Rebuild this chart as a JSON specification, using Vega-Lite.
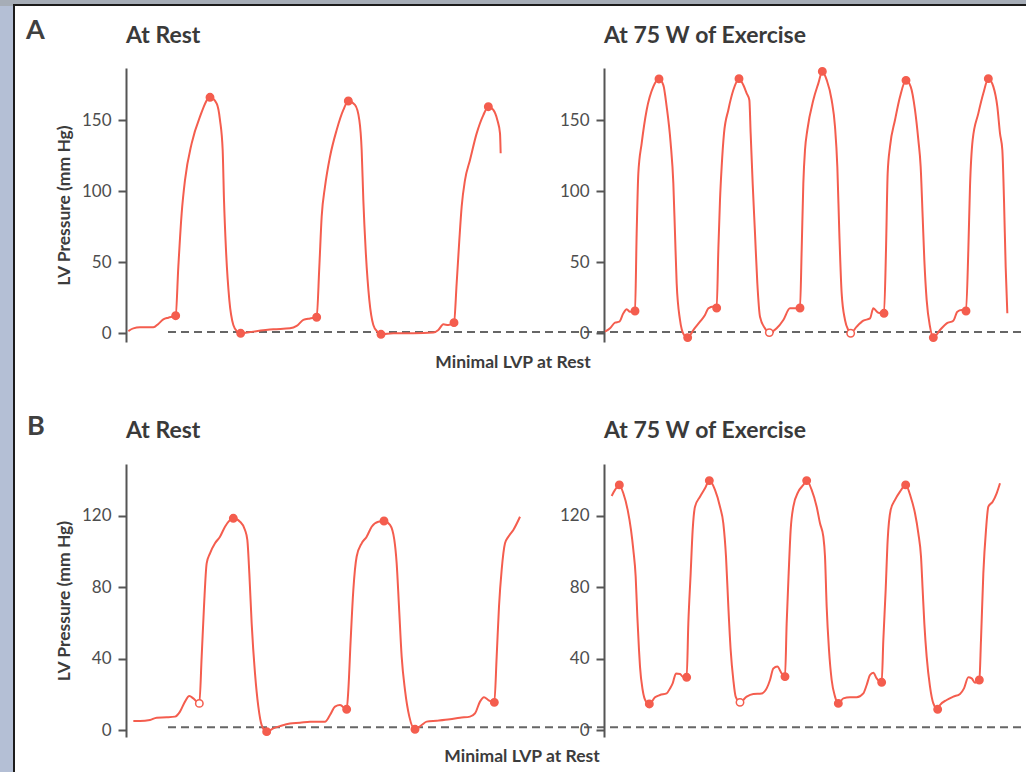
{
  "$schema": "https://vega.github.io/schema/vega-lite/v6.json",
  "padding": 0,
  "background": "white",
  "config": {"view": {"stroke": null}, "font": "Lato", "concat": {"spacing": 0}},
  "datasets": {
    "curve": [
      {"g":"A-rest","t":14,"p":1.6},{"g":"A-rest","t":44,"p":3.5},{"g":"A-rest","t":84,"p":4.2},{"g":"A-rest","t":164,"p":4.2},{"g":"A-rest","t":194,"p":6.6},{"g":"A-rest","t":224,"p":9.8},{"g":"A-rest","t":254,"p":11.0},{"g":"A-rest","t":298,"p":12.4},{"g":"A-rest","t":314,"p":46.9},{"g":"A-rest","t":334,"p":84.4},{"g":"A-rest","t":354,"p":107.8},{"g":"A-rest","t":394,"p":133.6},{"g":"A-rest","t":444,"p":152.4},{"g":"A-rest","t":504,"p":166.0},{"g":"A-rest","t":544,"p":161.7},{"g":"A-rest","t":564,"p":150.0},{"g":"A-rest","t":580,"p":128.9},{"g":"A-rest","t":588,"p":93.8},{"g":"A-rest","t":600,"p":58.6},{"g":"A-rest","t":620,"p":23.4},{"g":"A-rest","t":644,"p":5.9},{"g":"A-rest","t":668,"p":1.2},{"g":"A-rest","t":688,"p":0},{"g":"A-rest","t":764,"p":1.2},{"g":"A-rest","t":884,"p":2.8},{"g":"A-rest","t":984,"p":3.5},{"g":"A-rest","t":1024,"p":5.2},{"g":"A-rest","t":1064,"p":9.4},{"g":"A-rest","t":1104,"p":10.5},{"g":"A-rest","t":1144,"p":11.3},{"g":"A-rest","t":1160,"p":46.9},{"g":"A-rest","t":1174,"p":82.0},{"g":"A-rest","t":1194,"p":103.1},{"g":"A-rest","t":1224,"p":124.2},{"g":"A-rest","t":1264,"p":143.0},{"g":"A-rest","t":1304,"p":157.1},{"g":"A-rest","t":1334,"p":163.4},{"g":"A-rest","t":1374,"p":160.6},{"g":"A-rest","t":1400,"p":150.0},{"g":"A-rest","t":1414,"p":128.9},{"g":"A-rest","t":1424,"p":93.8},{"g":"A-rest","t":1438,"p":58.6},{"g":"A-rest","t":1460,"p":23.4},{"g":"A-rest","t":1484,"p":5.9},{"g":"A-rest","t":1508,"p":1.2},{"g":"A-rest","t":1530,"p":-0.7},{"g":"A-rest","t":1604,"p":0},{"g":"A-rest","t":1724,"p":0},{"g":"A-rest","t":1844,"p":0.5},{"g":"A-rest","t":1874,"p":2.3},{"g":"A-rest","t":1904,"p":6.3},{"g":"A-rest","t":1934,"p":5.9},{"g":"A-rest","t":1968,"p":7.5},{"g":"A-rest","t":1984,"p":35.2},{"g":"A-rest","t":2000,"p":65.6},{"g":"A-rest","t":2014,"p":89.1},{"g":"A-rest","t":2034,"p":107.8},{"g":"A-rest","t":2064,"p":121.9},{"g":"A-rest","t":2104,"p":140.6},{"g":"A-rest","t":2144,"p":153.5},{"g":"A-rest","t":2174,"p":159.4},{"g":"A-rest","t":2204,"p":157.1},{"g":"A-rest","t":2228,"p":150.0},{"g":"A-rest","t":2244,"p":140.6},{"g":"A-rest","t":2248,"p":126.6},

      {"g":"A-ex","t":6,"p":1.2},{"g":"A-ex","t":36,"p":3.5},{"g":"A-ex","t":66,"p":7.5},{"g":"A-ex","t":92,"p":8.2},{"g":"A-ex","t":116,"p":14.1},{"g":"A-ex","t":136,"p":16.9},{"g":"A-ex","t":156,"p":15.2},{"g":"A-ex","t":186,"p":15.7},{"g":"A-ex","t":196,"p":70.3},{"g":"A-ex","t":206,"p":112.5},{"g":"A-ex","t":226,"p":133.6},{"g":"A-ex","t":256,"p":157.1},{"g":"A-ex","t":296,"p":173.5},{"g":"A-ex","t":330,"p":178.9},{"g":"A-ex","t":356,"p":174.6},{"g":"A-ex","t":376,"p":159.4},{"g":"A-ex","t":400,"p":133.6},{"g":"A-ex","t":416,"p":105.5},{"g":"A-ex","t":426,"p":70.3},{"g":"A-ex","t":436,"p":35.2},{"g":"A-ex","t":456,"p":9.4},{"g":"A-ex","t":480,"p":-1.2},{"g":"A-ex","t":502,"p":-3.0},{"g":"A-ex","t":536,"p":2.3},{"g":"A-ex","t":576,"p":8.2},{"g":"A-ex","t":606,"p":12.9},{"g":"A-ex","t":626,"p":17.6},{"g":"A-ex","t":656,"p":18.8},{"g":"A-ex","t":676,"p":17.8},{"g":"A-ex","t":686,"p":58.6},{"g":"A-ex","t":696,"p":93.8},{"g":"A-ex","t":706,"p":117.2},{"g":"A-ex","t":720,"p":140.6},{"g":"A-ex","t":746,"p":157.1},{"g":"A-ex","t":776,"p":171.1},{"g":"A-ex","t":810,"p":179.1},{"g":"A-ex","t":836,"p":174.6},{"g":"A-ex","t":856,"p":168.8},{"g":"A-ex","t":872,"p":164.1},{"g":"A-ex","t":880,"p":140.6},{"g":"A-ex","t":892,"p":105.5},{"g":"A-ex","t":906,"p":70.3},{"g":"A-ex","t":920,"p":35.2},{"g":"A-ex","t":936,"p":11.7},{"g":"A-ex","t":966,"p":3.5},{"g":"A-ex","t":992,"p":0.5},{"g":"A-ex","t":1036,"p":3.5},{"g":"A-ex","t":1076,"p":9.4},{"g":"A-ex","t":1116,"p":17.6},{"g":"A-ex","t":1146,"p":17.6},{"g":"A-ex","t":1176,"p":17.8},{"g":"A-ex","t":1186,"p":58.6},{"g":"A-ex","t":1196,"p":105.5},{"g":"A-ex","t":1206,"p":128.9},{"g":"A-ex","t":1220,"p":143.0},{"g":"A-ex","t":1256,"p":164.1},{"g":"A-ex","t":1286,"p":175.8},{"g":"A-ex","t":1310,"p":184.2},{"g":"A-ex","t":1336,"p":178.2},{"g":"A-ex","t":1366,"p":164.1},{"g":"A-ex","t":1386,"p":145.3},{"g":"A-ex","t":1400,"p":117.2},{"g":"A-ex","t":1412,"p":70.3},{"g":"A-ex","t":1426,"p":28.1},{"g":"A-ex","t":1446,"p":9.4},{"g":"A-ex","t":1466,"p":2.3},{"g":"A-ex","t":1480,"p":0},{"g":"A-ex","t":1516,"p":4.7},{"g":"A-ex","t":1556,"p":8.9},{"g":"A-ex","t":1596,"p":10.5},{"g":"A-ex","t":1616,"p":17.6},{"g":"A-ex","t":1646,"p":14.5},{"g":"A-ex","t":1680,"p":14.1},{"g":"A-ex","t":1692,"p":58.6},{"g":"A-ex","t":1702,"p":112.5},{"g":"A-ex","t":1716,"p":131.3},{"g":"A-ex","t":1746,"p":150.0},{"g":"A-ex","t":1776,"p":166.4},{"g":"A-ex","t":1812,"p":177.9},{"g":"A-ex","t":1840,"p":173.5},{"g":"A-ex","t":1866,"p":157.1},{"g":"A-ex","t":1886,"p":136.0},{"g":"A-ex","t":1900,"p":117.2},{"g":"A-ex","t":1912,"p":82.0},{"g":"A-ex","t":1922,"p":51.6},{"g":"A-ex","t":1936,"p":23.4},{"g":"A-ex","t":1956,"p":4.7},{"g":"A-ex","t":1976,"p":-3.0},{"g":"A-ex","t":2016,"p":2.3},{"g":"A-ex","t":2056,"p":7.0},{"g":"A-ex","t":2096,"p":8.9},{"g":"A-ex","t":2120,"p":15.2},{"g":"A-ex","t":2146,"p":16.4},{"g":"A-ex","t":2172,"p":15.7},{"g":"A-ex","t":2186,"p":58.6},{"g":"A-ex","t":2196,"p":103.1},{"g":"A-ex","t":2212,"p":136.0},{"g":"A-ex","t":2246,"p":154.7},{"g":"A-ex","t":2276,"p":168.8},{"g":"A-ex","t":2306,"p":179.1},{"g":"A-ex","t":2336,"p":173.5},{"g":"A-ex","t":2360,"p":159.4},{"g":"A-ex","t":2376,"p":140.6},{"g":"A-ex","t":2390,"p":128.9},{"g":"A-ex","t":2400,"p":93.8},{"g":"A-ex","t":2410,"p":46.9},{"g":"A-ex","t":2420,"p":14.1},

      {"g":"B-rest","t":44,"p":5.0},{"g":"B-rest","t":84,"p":5.0},{"g":"B-rest","t":144,"p":5.6},{"g":"B-rest","t":184,"p":6.9},{"g":"B-rest","t":244,"p":7.1},{"g":"B-rest","t":294,"p":7.5},{"g":"B-rest","t":324,"p":10.3},{"g":"B-rest","t":354,"p":15.9},{"g":"B-rest","t":380,"p":19.0},{"g":"B-rest","t":404,"p":17.7},{"g":"B-rest","t":440,"p":14.9},{"g":"B-rest","t":454,"p":41.1},{"g":"B-rest","t":468,"p":69.1},{"g":"B-rest","t":484,"p":93.3},{"g":"B-rest","t":504,"p":98.9},{"g":"B-rest","t":534,"p":104.5},{"g":"B-rest","t":564,"p":108.2},{"g":"B-rest","t":594,"p":113.8},{"g":"B-rest","t":644,"p":118.5},{"g":"B-rest","t":684,"p":116.6},{"g":"B-rest","t":714,"p":112.0},{"g":"B-rest","t":728,"p":106.4},{"g":"B-rest","t":740,"p":87.7},{"g":"B-rest","t":754,"p":59.7},{"g":"B-rest","t":774,"p":31.7},{"g":"B-rest","t":794,"p":13.1},{"g":"B-rest","t":814,"p":2.8},{"g":"B-rest","t":844,"p":-0.9},{"g":"B-rest","t":884,"p":0.9},{"g":"B-rest","t":924,"p":2.2},{"g":"B-rest","t":984,"p":3.7},{"g":"B-rest","t":1044,"p":4.1},{"g":"B-rest","t":1104,"p":4.7},{"g":"B-rest","t":1194,"p":4.7},{"g":"B-rest","t":1224,"p":8.4},{"g":"B-rest","t":1254,"p":13.1},{"g":"B-rest","t":1284,"p":14.0},{"g":"B-rest","t":1324,"p":11.6},{"g":"B-rest","t":1334,"p":22.4},{"g":"B-rest","t":1348,"p":50.4},{"g":"B-rest","t":1364,"p":78.4},{"g":"B-rest","t":1384,"p":97.1},{"g":"B-rest","t":1414,"p":104.5},{"g":"B-rest","t":1444,"p":108.2},{"g":"B-rest","t":1474,"p":113.8},{"g":"B-rest","t":1514,"p":116.6},{"g":"B-rest","t":1548,"p":117.0},{"g":"B-rest","t":1584,"p":114.8},{"g":"B-rest","t":1610,"p":106.4},{"g":"B-rest","t":1624,"p":93.3},{"g":"B-rest","t":1638,"p":69.1},{"g":"B-rest","t":1654,"p":41.1},{"g":"B-rest","t":1674,"p":22.4},{"g":"B-rest","t":1700,"p":7.5},{"g":"B-rest","t":1734,"p":0.4},{"g":"B-rest","t":1774,"p":2.8},{"g":"B-rest","t":1804,"p":4.7},{"g":"B-rest","t":1864,"p":5.2},{"g":"B-rest","t":1944,"p":6.0},{"g":"B-rest","t":2004,"p":6.9},{"g":"B-rest","t":2064,"p":7.5},{"g":"B-rest","t":2094,"p":9.3},{"g":"B-rest","t":2124,"p":15.9},{"g":"B-rest","t":2148,"p":18.3},{"g":"B-rest","t":2174,"p":16.8},{"g":"B-rest","t":2210,"p":15.5},{"g":"B-rest","t":2224,"p":41.1},{"g":"B-rest","t":2238,"p":69.1},{"g":"B-rest","t":2254,"p":89.6},{"g":"B-rest","t":2274,"p":104.5},{"g":"B-rest","t":2294,"p":108.2},{"g":"B-rest","t":2324,"p":112.0},{"g":"B-rest","t":2364,"p":119.4},

      {"g":"B-ex","t":46,"p":131.0},{"g":"B-ex","t":66,"p":134.4},{"g":"B-ex","t":92,"p":137.2},{"g":"B-ex","t":116,"p":132.5},{"g":"B-ex","t":142,"p":123.2},{"g":"B-ex","t":162,"p":112.0},{"g":"B-ex","t":176,"p":100.8},{"g":"B-ex","t":190,"p":85.9},{"g":"B-ex","t":200,"p":63.5},{"g":"B-ex","t":210,"p":44.8},{"g":"B-ex","t":216,"p":35.5},{"g":"B-ex","t":232,"p":22.4},{"g":"B-ex","t":252,"p":15.9},{"g":"B-ex","t":272,"p":14.6},{"g":"B-ex","t":306,"p":18.3},{"g":"B-ex","t":336,"p":19.6},{"g":"B-ex","t":376,"p":20.5},{"g":"B-ex","t":396,"p":23.3},{"g":"B-ex","t":412,"p":26.1},{"g":"B-ex","t":432,"p":31.7},{"g":"B-ex","t":456,"p":31.4},{"g":"B-ex","t":472,"p":29.9},{"g":"B-ex","t":496,"p":29.5},{"g":"B-ex","t":506,"p":59.7},{"g":"B-ex","t":520,"p":87.7},{"g":"B-ex","t":532,"p":112.0},{"g":"B-ex","t":546,"p":125.0},{"g":"B-ex","t":576,"p":130.6},{"g":"B-ex","t":606,"p":135.3},{"g":"B-ex","t":632,"p":139.6},{"g":"B-ex","t":666,"p":134.4},{"g":"B-ex","t":696,"p":125.0},{"g":"B-ex","t":716,"p":115.7},{"g":"B-ex","t":732,"p":97.1},{"g":"B-ex","t":746,"p":69.1},{"g":"B-ex","t":760,"p":44.8},{"g":"B-ex","t":776,"p":28.0},{"g":"B-ex","t":790,"p":18.7},{"g":"B-ex","t":816,"p":15.5},{"g":"B-ex","t":856,"p":18.7},{"g":"B-ex","t":896,"p":20.2},{"g":"B-ex","t":946,"p":20.5},{"g":"B-ex","t":976,"p":23.3},{"g":"B-ex","t":996,"p":28.0},{"g":"B-ex","t":1016,"p":34.5},{"g":"B-ex","t":1040,"p":35.5},{"g":"B-ex","t":1066,"p":31.7},{"g":"B-ex","t":1086,"p":29.9},{"g":"B-ex","t":1096,"p":59.7},{"g":"B-ex","t":1108,"p":87.7},{"g":"B-ex","t":1120,"p":112.0},{"g":"B-ex","t":1136,"p":125.0},{"g":"B-ex","t":1166,"p":133.4},{"g":"B-ex","t":1196,"p":137.2},{"g":"B-ex","t":1216,"p":139.6},{"g":"B-ex","t":1246,"p":134.4},{"g":"B-ex","t":1276,"p":125.0},{"g":"B-ex","t":1296,"p":115.7},{"g":"B-ex","t":1316,"p":108.2},{"g":"B-ex","t":1326,"p":97.1},{"g":"B-ex","t":1336,"p":69.1},{"g":"B-ex","t":1350,"p":44.8},{"g":"B-ex","t":1366,"p":28.0},{"g":"B-ex","t":1386,"p":18.7},{"g":"B-ex","t":1406,"p":14.9},{"g":"B-ex","t":1436,"p":17.7},{"g":"B-ex","t":1476,"p":18.3},{"g":"B-ex","t":1516,"p":18.3},{"g":"B-ex","t":1556,"p":20.5},{"g":"B-ex","t":1576,"p":25.2},{"g":"B-ex","t":1596,"p":30.8},{"g":"B-ex","t":1616,"p":32.1},{"g":"B-ex","t":1636,"p":28.9},{"g":"B-ex","t":1666,"p":26.7},{"g":"B-ex","t":1676,"p":50.4},{"g":"B-ex","t":1690,"p":78.4},{"g":"B-ex","t":1702,"p":106.4},{"g":"B-ex","t":1720,"p":123.2},{"g":"B-ex","t":1746,"p":128.8},{"g":"B-ex","t":1776,"p":133.4},{"g":"B-ex","t":1810,"p":137.2},{"g":"B-ex","t":1840,"p":130.6},{"g":"B-ex","t":1866,"p":121.3},{"g":"B-ex","t":1886,"p":110.1},{"g":"B-ex","t":1902,"p":97.1},{"g":"B-ex","t":1912,"p":78.4},{"g":"B-ex","t":1922,"p":59.7},{"g":"B-ex","t":1936,"p":41.1},{"g":"B-ex","t":1956,"p":24.3},{"g":"B-ex","t":1976,"p":14.9},{"g":"B-ex","t":2002,"p":11.6},{"g":"B-ex","t":2016,"p":14.0},{"g":"B-ex","t":2056,"p":16.8},{"g":"B-ex","t":2096,"p":18.7},{"g":"B-ex","t":2136,"p":20.2},{"g":"B-ex","t":2160,"p":23.3},{"g":"B-ex","t":2186,"p":29.5},{"g":"B-ex","t":2206,"p":28.9},{"g":"B-ex","t":2226,"p":26.5},{"g":"B-ex","t":2252,"p":28.0},{"g":"B-ex","t":2262,"p":50.4},{"g":"B-ex","t":2276,"p":87.7},{"g":"B-ex","t":2292,"p":112.0},{"g":"B-ex","t":2306,"p":125.0},{"g":"B-ex","t":2332,"p":127.8},{"g":"B-ex","t":2356,"p":132.5},{"g":"B-ex","t":2376,"p":138.1}
    ],
    "marks": [
      {"g":"A-rest","t":298,"p":12.4,"k":"filled"},{"g":"A-rest","t":504,"p":166.0,"k":"filled"},{"g":"A-rest","t":688,"p":0,"k":"filled"},{"g":"A-rest","t":1144,"p":11.3,"k":"filled"},{"g":"A-rest","t":1334,"p":163.4,"k":"filled"},{"g":"A-rest","t":1530,"p":-0.7,"k":"filled"},{"g":"A-rest","t":1968,"p":7.5,"k":"filled"},{"g":"A-rest","t":2174,"p":159.4,"k":"filled"},
      {"g":"A-ex","t":186,"p":15.7,"k":"filled"},{"g":"A-ex","t":330,"p":178.9,"k":"filled"},{"g":"A-ex","t":502,"p":-3.0,"k":"filled"},{"g":"A-ex","t":676,"p":17.8,"k":"filled"},{"g":"A-ex","t":810,"p":179.1,"k":"filled"},{"g":"A-ex","t":992,"p":0.5,"k":"open"},{"g":"A-ex","t":1176,"p":17.8,"k":"filled"},{"g":"A-ex","t":1310,"p":184.2,"k":"filled"},{"g":"A-ex","t":1480,"p":0,"k":"open"},{"g":"A-ex","t":1680,"p":14.1,"k":"filled"},{"g":"A-ex","t":1812,"p":177.9,"k":"filled"},{"g":"A-ex","t":1976,"p":-3.0,"k":"filled"},{"g":"A-ex","t":2172,"p":15.7,"k":"filled"},{"g":"A-ex","t":2306,"p":179.1,"k":"filled"},
      {"g":"B-rest","t":440,"p":14.9,"k":"open"},{"g":"B-rest","t":644,"p":118.5,"k":"filled"},{"g":"B-rest","t":844,"p":-0.9,"k":"filled"},{"g":"B-rest","t":1324,"p":11.6,"k":"filled"},{"g":"B-rest","t":1548,"p":117.0,"k":"filled"},{"g":"B-rest","t":1734,"p":0.4,"k":"filled"},{"g":"B-rest","t":2210,"p":15.5,"k":"filled"},
      {"g":"B-ex","t":92,"p":137.2,"k":"filled"},{"g":"B-ex","t":272,"p":14.6,"k":"filled"},{"g":"B-ex","t":496,"p":29.5,"k":"filled"},{"g":"B-ex","t":632,"p":139.6,"k":"filled"},{"g":"B-ex","t":816,"p":15.5,"k":"open"},{"g":"B-ex","t":1086,"p":29.9,"k":"filled"},{"g":"B-ex","t":1216,"p":139.6,"k":"filled"},{"g":"B-ex","t":1406,"p":14.9,"k":"filled"},{"g":"B-ex","t":1666,"p":26.7,"k":"filled"},{"g":"B-ex","t":1810,"p":137.2,"k":"filled"},{"g":"B-ex","t":2002,"p":11.6,"k":"filled"},{"g":"B-ex","t":2252,"p":28.0,"k":"filled"}
    ],
    "ref": [
      {"g":"A","t":252,"t2":5370,"p":1.0},
      {"g":"B","t":252,"t2":5370,"p":1.5}
    ],
    "labels": [
      {"g":"A","t":2322,"p":-24.4,"label":"Minimal LVP at Rest"},
      {"g":"B","t":2376,"p":-17.9,"label":"Minimal LVP at Rest"}
    ]
  },
  "columns": 6,
  "spacing": 0,
  "bounds": "flush",
  "align": "each",
  "concat": [
    {"width": 13, "height": 4, "view": {"fill": "#a6adb7"}, "data": {"values": []}, "mark": "text"},
    {"width": 2, "height": 4, "view": {"fill": "#a6adb7"}, "data": {"values": []}, "mark": "text"},
    {"width": 111, "height": 4, "view": {"fill": "#a6adb7"}, "data": {"values": []}, "mark": "text"},
    {"width": 399, "height": 4, "view": {"fill": "#a6adb7"}, "data": {"values": []}, "mark": "text"},
    {"width": 79, "height": 4, "view": {"fill": "#a6adb7"}, "data": {"values": []}, "mark": "text"},
    {"width": 422, "height": 4, "view": {"fill": "#a6adb7"}, "data": {"values": []}, "mark": "text"},

    {"width": 13, "height": 2, "view": {"fill": "#a6adb7"}, "data": {"values": []}, "mark": "text"},
    {"width": 2, "height": 2, "view": {"fill": "#1c1c1c"}, "data": {"values": []}, "mark": "text"},
    {"width": 111, "height": 2, "view": {"fill": "#1c1c1c"}, "data": {"values": []}, "mark": "text"},
    {"width": 399, "height": 2, "view": {"fill": "#1c1c1c"}, "data": {"values": []}, "mark": "text"},
    {"width": 79, "height": 2, "view": {"fill": "#1c1c1c"}, "data": {"values": []}, "mark": "text"},
    {"width": 422, "height": 2, "view": {"fill": "#1c1c1c"}, "data": {"values": []}, "mark": "text"},

    {"width": 13, "height": 62, "view": {"fill": "#b4bfd5"}, "data": {"values": []}, "mark": "text"},
    {"width": 2, "height": 62, "view": {"fill": "#1c1c1c"}, "data": {"values": []}, "mark": "text"},
    {"width": 1, "height": 1, "data": {"values": []}, "mark": "text"},
    {"width": 1, "height": 1, "data": {"values": []}, "mark": "text"},
    {"width": 1, "height": 1, "data": {"values": []}, "mark": "text"},
    {"width": 1, "height": 1, "data": {"values": []}, "mark": "text"},

    {"width": 13, "height": 274, "view": {"fill": "#b4bfd5"}, "data": {"values": []}, "mark": "text"},
    {"width": 2, "height": 274, "view": {"fill": "#1c1c1c"}, "data": {"values": []}, "mark": "text"},
    {"width": 111, "height": 274, "data": {"values": []}, "mark": "text",
     "title": {"text": "A", "anchor": "start", "frame": "group", "dx": 11, "offset": 2, "baseline": "alphabetic", "fontSize": 27, "fontWeight": "bold", "color": "#404040", "font": "Lato"}},
    {
      "width": 399, "height": 274,
      "title": {"text": "At Rest", "anchor": "start", "frame": "group", "offset": 2, "baseline": "alphabetic", "fontSize": 23, "fontWeight": "bold", "color": "#3a3a3a", "font": "Lato"},
      "encoding": {
        "x": {"field": "t", "type": "quantitative", "scale": {"domain": [0, 2394], "nice": false, "zero": false}, "axis": null},
        "y": {"field": "p", "type": "quantitative", "scale": {"domain": [-6.1, 186.6], "nice": false, "zero": false},
              "axis": {"values": [0, 50, 100, 150], "grid": false, "domainColor": "#555", "domainWidth": 2, "tickColor": "#555", "tickWidth": 2, "tickSize": 8, "labelFontSize": 17, "labelColor": "#4d4d4d", "labelPadding": 7, "labelFont": "Lato", "title": "LV Pressure (mm Hg)", "titleFontSize": 17.5, "titleFontWeight": "bold", "titleColor": "#3c3c3c", "titlePadding": 8, "titleFont": "Lato"}}
      },
      "layer": [
        {"data": {"name": "ref"}, "transform": [{"filter": "datum.g === 'A'"}],
         "mark": {"type": "rule", "color": "#666666", "strokeWidth": 2, "strokeDash": [8, 5]},
         "encoding": {"x2": {"field": "t2"}}},
        {"data": {"name": "curve"}, "transform": [{"filter": "datum.g === 'A-rest'"}],
         "mark": {"type": "line", "interpolate": "monotone", "color": "#f45d4e", "strokeWidth": 2}},
        {"data": {"name": "marks"}, "transform": [{"filter": "datum.g === 'A-rest'"}],
         "mark": {"type": "circle", "size": 55, "stroke": "#f45d4e", "strokeWidth": 1.5, "opacity": 1},
         "encoding": {"fill": {"field": "k", "type": "nominal", "scale": {"domain": ["filled", "open"], "range": ["#f45d4e", "#ffffff"]}, "legend": null}}},
        {"data": {"name": "labels"}, "transform": [{"filter": "datum.g === 'A'"}],
         "mark": {"type": "text", "fontSize": 17.5, "fontWeight": "bold", "color": "#3c3c3c", "baseline": "alphabetic", "align": "center", "font": "Lato"},
         "encoding": {"text": {"field": "label"}}}
      ]
    },
    {"width": 1, "height": 1, "data": {"values": []}, "mark": "text"},
    {
      "width": 416, "height": 274,
      "title": {"text": "At 75 W of Exercise", "anchor": "start", "frame": "group", "offset": -1, "baseline": "alphabetic", "fontSize": 23, "fontWeight": "bold", "color": "#3a3a3a", "font": "Lato"},
      "encoding": {
        "x": {"field": "t", "type": "quantitative", "scale": {"domain": [0, 2496], "nice": false, "zero": false}, "axis": null},
        "y": {"field": "p", "type": "quantitative", "scale": {"domain": [-6.1, 186.6], "nice": false, "zero": false},
              "axis": {"values": [0, 50, 100, 150], "grid": false, "domainColor": "#555", "domainWidth": 2, "tickColor": "#555", "tickWidth": 2, "tickSize": 8, "labelFontSize": 17, "labelColor": "#4d4d4d", "labelPadding": 7, "labelFont": "Lato", "title": null}}
      },
      "layer": [
        {"data": {"name": "curve"}, "transform": [{"filter": "datum.g === 'A-ex'"}],
         "mark": {"type": "line", "interpolate": "monotone", "color": "#f45d4e", "strokeWidth": 2}},
        {"data": {"name": "marks"}, "transform": [{"filter": "datum.g === 'A-ex'"}],
         "mark": {"type": "circle", "size": 55, "stroke": "#f45d4e", "strokeWidth": 1.5, "opacity": 1},
         "encoding": {"fill": {"field": "k", "type": "nominal", "scale": {"domain": ["filled", "open"], "range": ["#f45d4e", "#ffffff"]}, "legend": null}}}
      ]
    },

    {"width": 13, "height": 122, "view": {"fill": "#b4bfd5"}, "data": {"values": []}, "mark": "text"},
    {"width": 2, "height": 122, "view": {"fill": "#1c1c1c"}, "data": {"values": []}, "mark": "text"},
    {"width": 1, "height": 1, "data": {"values": []}, "mark": "text"},
    {"width": 1, "height": 1, "data": {"values": []}, "mark": "text"},
    {"width": 1, "height": 1, "data": {"values": []}, "mark": "text"},
    {"width": 1, "height": 1, "data": {"values": []}, "mark": "text"},

    {"width": 13, "height": 273, "view": {"fill": "#b4bfd5"}, "data": {"values": []}, "mark": "text"},
    {"width": 2, "height": 273, "view": {"fill": "#1c1c1c"}, "data": {"values": []}, "mark": "text"},
    {"width": 111, "height": 273, "data": {"values": []}, "mark": "text",
     "title": {"text": "B", "anchor": "start", "frame": "group", "dx": 12, "offset": 2, "baseline": "alphabetic", "fontSize": 27, "fontWeight": "bold", "color": "#404040", "font": "Lato"}},
    {
      "width": 399, "height": 273,
      "title": {"text": "At Rest", "anchor": "start", "frame": "group", "offset": 3, "baseline": "alphabetic", "fontSize": 23, "fontWeight": "bold", "color": "#3a3a3a", "font": "Lato"},
      "encoding": {
        "x": {"field": "t", "type": "quantitative", "scale": {"domain": [0, 2394], "nice": false, "zero": false}, "axis": null},
        "y": {"field": "p", "type": "quantitative", "scale": {"domain": [-3.9, 148.9], "nice": false, "zero": false},
              "axis": {"values": [0, 40, 80, 120], "grid": false, "domainColor": "#555", "domainWidth": 2, "tickColor": "#555", "tickWidth": 2, "tickSize": 8, "labelFontSize": 17, "labelColor": "#4d4d4d", "labelPadding": 7, "labelFont": "Lato", "title": "LV Pressure (mm Hg)", "titleFontSize": 17.5, "titleFontWeight": "bold", "titleColor": "#3c3c3c", "titlePadding": 8, "titleFont": "Lato"}}
      },
      "layer": [
        {"data": {"name": "ref"}, "transform": [{"filter": "datum.g === 'B'"}],
         "mark": {"type": "rule", "color": "#666666", "strokeWidth": 2, "strokeDash": [8, 5]},
         "encoding": {"x2": {"field": "t2"}}},
        {"data": {"name": "curve"}, "transform": [{"filter": "datum.g === 'B-rest'"}],
         "mark": {"type": "line", "interpolate": "monotone", "color": "#f45d4e", "strokeWidth": 2}},
        {"data": {"name": "marks"}, "transform": [{"filter": "datum.g === 'B-rest'"}],
         "mark": {"type": "circle", "size": 55, "stroke": "#f45d4e", "strokeWidth": 1.5, "opacity": 1},
         "encoding": {"fill": {"field": "k", "type": "nominal", "scale": {"domain": ["filled", "open"], "range": ["#f45d4e", "#ffffff"]}, "legend": null}}},
        {"data": {"name": "labels"}, "transform": [{"filter": "datum.g === 'B'"}],
         "mark": {"type": "text", "fontSize": 17.5, "fontWeight": "bold", "color": "#3c3c3c", "baseline": "alphabetic", "align": "center", "font": "Lato"},
         "encoding": {"text": {"field": "label"}}}
      ]
    },
    {"width": 1, "height": 1, "data": {"values": []}, "mark": "text"},
    {
      "width": 416, "height": 273,
      "title": {"text": "At 75 W of Exercise", "anchor": "start", "frame": "group", "offset": 3, "baseline": "alphabetic", "fontSize": 23, "fontWeight": "bold", "color": "#3a3a3a", "font": "Lato"},
      "encoding": {
        "x": {"field": "t", "type": "quantitative", "scale": {"domain": [0, 2496], "nice": false, "zero": false}, "axis": null},
        "y": {"field": "p", "type": "quantitative", "scale": {"domain": [-3.9, 148.9], "nice": false, "zero": false},
              "axis": {"values": [0, 40, 80, 120], "grid": false, "domainColor": "#555", "domainWidth": 2, "tickColor": "#555", "tickWidth": 2, "tickSize": 8, "labelFontSize": 17, "labelColor": "#4d4d4d", "labelPadding": 7, "labelFont": "Lato", "title": null}}
      },
      "layer": [
        {"data": {"name": "curve"}, "transform": [{"filter": "datum.g === 'B-ex'"}],
         "mark": {"type": "line", "interpolate": "monotone", "color": "#f45d4e", "strokeWidth": 2}},
        {"data": {"name": "marks"}, "transform": [{"filter": "datum.g === 'B-ex'"}],
         "mark": {"type": "circle", "size": 55, "stroke": "#f45d4e", "strokeWidth": 1.5, "opacity": 1},
         "encoding": {"fill": {"field": "k", "type": "nominal", "scale": {"domain": ["filled", "open"], "range": ["#f45d4e", "#ffffff"]}, "legend": null}}}
      ]
    },

    {"width": 13, "height": 35, "view": {"fill": "#b4bfd5"}, "data": {"values": []}, "mark": "text"},
    {"width": 2, "height": 35, "view": {"fill": "#1c1c1c"}, "data": {"values": []}, "mark": "text"},
    {"width": 1, "height": 1, "data": {"values": []}, "mark": "text"},
    {"width": 1, "height": 1, "data": {"values": []}, "mark": "text"},
    {"width": 1, "height": 1, "data": {"values": []}, "mark": "text"},
    {"width": 1, "height": 1, "data": {"values": []}, "mark": "text"}
  ]
}
